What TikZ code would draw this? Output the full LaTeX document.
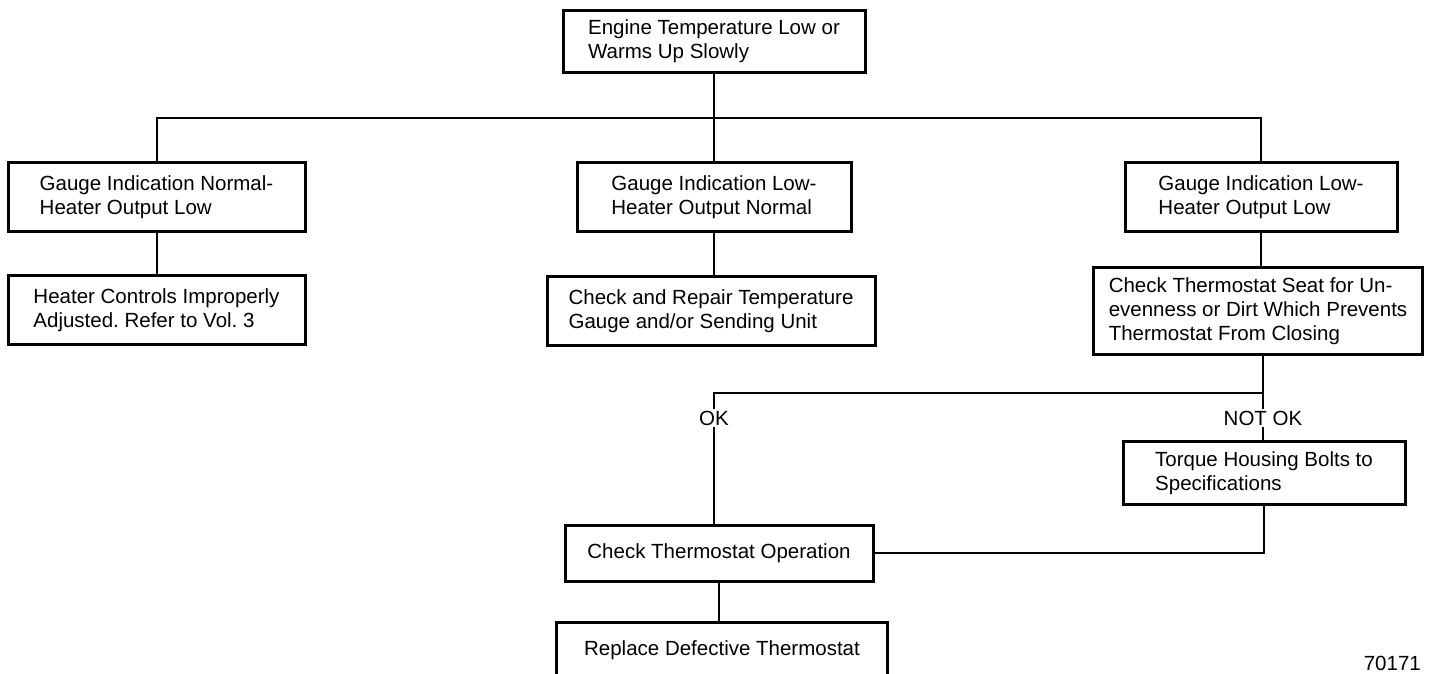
\documentclass[tikz,border=0pt]{standalone}
\usepackage{fontspec}
\setmainfont{Liberation Sans}
\usetikzlibrary{positioning}
\frenchspacing

\begin{document}
\begin{tikzpicture}[x=1pt,y=-1pt,
    box/.style={draw,line width=3pt,align=left,inner sep=0pt,font=\fontsize{20.5}{24}\selectfont},
    lbl/.style={inner sep=2pt,font=\fontsize{20.5}{24}\selectfont},
    wire/.style={line width=2pt}]
        \useasboundingbox (0,0) rectangle (1429,673);
        \clip (0,0) rectangle (1429,673);
        \node[box,minimum width=302,minimum height=62] (top) at (714,41) {Engine Temperature Low or\\Warms Up Slowly};
        \node[box,minimum width=297,minimum height=69] (g1) at (156.5,197) {Gauge Indication Normal-\\Heater Output Low};
        \node[box,minimum width=274,minimum height=69] (g2) at (714,197) {Gauge Indication Low-\\Heater Output Normal};
        \node[box,minimum width=272,minimum height=69] (g3) at (1261,197) {Gauge Indication Low-\\Heater Output Low};
        \node[box,minimum width=297,minimum height=69] (a1) at (156.5,310) {Heater Controls Improperly\\Adjusted. Refer to Vol. 3};
        \node[box,minimum width=328,minimum height=69] (a2) at (711,311) {Check and Repair Temperature\\Gauge and/or Sending Unit};
        \node[box,minimum width=329,minimum height=87] (a3) at (1258,311) {Check Thermostat Seat for Un-\\evenness or Dirt Which Prevents\\Thermostat From Closing};
        \node[box,minimum width=282,minimum height=63] (torque) at (1264,473) {Torque Housing Bolts to\\Specifications};
        \node[box,minimum width=308,minimum height=56] (op) at (719,553) {Check Thermostat Operation};
        \node[box,minimum width=331,minimum height=56] (rep) at (722,650) {Replace Defective Thermostat};
        \node[lbl] (ok) at (714,418) {OK};
        \node[lbl] (nok) at (1263,418) {NOT OK};
        \node[lbl,anchor=south east,inner sep=0pt] (num) at (1421,671) {70171};
        \coordinate (bus) at (714,118);
        \coordinate (split) at (1263,393);
        \draw[wire] (top) -- (bus);
        \draw[wire] (g1.north) |- (bus) -| (g3.north);
        \draw[wire] (bus) -- (g2.north);
        \draw[wire] (g1.south) -- (a1.north);
        \draw[wire] (g2.south) -- (g2.south |- a2.north);
        \draw[wire] (g3.south) -- (g3.south |- a3.north);
        \draw[wire] (a3.south -| split) -- (split) -| (ok.north);
        \draw[wire] (ok.south) -- (ok.south |- op.north);
        \draw[wire] (split) -- (nok.north);
        \draw[wire] (nok.south) -- (nok.south |- torque.north);
        \draw[wire] (torque.south) |- (op.east);
        \draw[wire] (op.south) -- (op.south |- rep.north);
      \end{tikzpicture}
\end{document}
